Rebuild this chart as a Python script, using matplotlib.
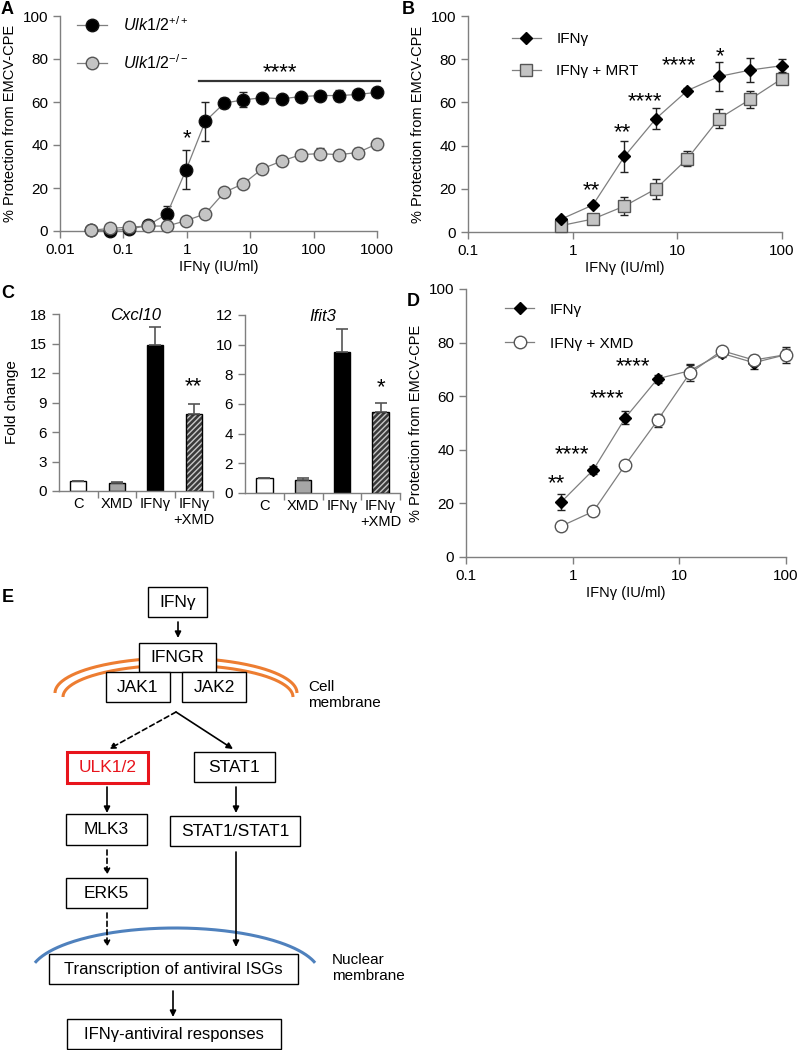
import numpy as np
import matplotlib
matplotlib.use("Agg")
import matplotlib.pyplot as plt
from matplotlib.patches import Rectangle

plt.rcParams['font.family'] = ['Liberation Sans', 'DejaVu Sans']
plt.rcParams['mathtext.fontset'] = 'custom'
plt.rcParams['mathtext.rm'] = 'Liberation Sans'
plt.rcParams['mathtext.it'] = 'Liberation Sans:italic'
plt.rcParams['hatch.linewidth'] = 1.0

# ---- panel A data ----
dose_a = [1000 / 2 ** k for k in range(15, -1, -1)]
wt_mean = [0.3, 0.2, 0.8, 2.6, 8.0, 28.5, 51.0, 59.5, 61.0, 62.0, 61.5, 62.5, 63.0, 63.0, 63.5, 64.5]
wt_err = [0.3, 0.3, 0.5, 0.8, 3.5, 9.0, 9.0, 2.5, 3.5, 1.0, 1.0, 1.2, 1.5, 2.5, 1.0, 1.0]
ko_mean = [0.3, 1.2, 1.8, 2.3, 2.3, 4.8, 8.0, 18.0, 22.0, 29.0, 32.5, 35.5, 36.0, 35.5, 36.5, 40.5]
ko_err = [0.2, 0.2, 0.2, 0.3, 0.3, 0.3, 0.3, 0.5, 0.5, 0.5, 0.5, 1.0, 2.5, 1.0, 2.0, 2.5]

# ---- panel B data ----
dose_b = [0.78, 1.56, 3.125, 6.25, 12.5, 25, 50, 100]
ifn_b = [6.0, 12.5, 35.0, 52.5, 65.5, 72.0, 75.0, 77.0]
ifn_b_err = [0.5, 1.0, 7.0, 5.0, 1.0, 6.5, 5.5, 3.0]
mrt_b = [3.0, 6.0, 12.0, 20.0, 34.0, 52.5, 61.5, 71.0]
mrt_b_err = [1.0, 1.0, 4.0, 4.5, 3.5, 4.5, 4.0, 2.0]

# ---- panel C data ----
groups_c = ['C', 'XMD', 'IFNγ', 'IFNγ\n+XMD']
cxcl10 = [1.0, 0.85, 14.8, 7.8]
cxcl10_err = [0.0, 0.1, 1.9, 1.0]
ifit3 = [1.0, 0.9, 9.5, 5.45]
ifit3_err = [0.0, 0.1, 1.55, 0.65]

# ---- panel D data ----
dose_d = [0.78, 1.56, 3.125, 6.25, 12.5, 25, 50, 100]
ifn_d = [20.5, 32.5, 52.0, 66.5, 69.5, 76.0, 72.5, 75.5]
ifn_d_err = [3.0, 1.5, 2.5, 1.5, 2.5, 1.5, 2.5, 3.0]
xmd_d = [11.5, 17.0, 34.5, 51.0, 68.5, 77.0, 73.5, 75.5]
xmd_d_err = [0.5, 0.5, 0.5, 2.5, 3.0, 1.0, 2.0, 2.0]

W, H = 797, 1050
fig = plt.figure(figsize=(W / 100, H / 100), dpi=100)


def px_axes(left, top, right, bottom):
    return fig.add_axes([left / W, 1 - bottom / H, (right - left) / W, (bottom - top) / H])


# diagram / label layer in pixel coordinates
dg = fig.add_axes([0, 0, 1, 1])
dg.set_xlim(0, W)
dg.set_ylim(H, 0)
dg.axis('off')

AX_GRAY = '#7f7f7f'


def style_axes(ax):
    for s in ['top', 'right']:
        ax.spines[s].set_visible(False)
    for s in ['left', 'bottom']:
        ax.spines[s].set_color(AX_GRAY)
        ax.spines[s].set_linewidth(1.0)
    ax.tick_params(colors=AX_GRAY, labelcolor='black', labelsize=11, length=5, width=1.0)
    ax.tick_params(which='minor', length=0)


def dose_panel(ax, xlim):
    style_axes(ax)
    ax.set_xscale('log')
    ax.set_xlim(*xlim)
    ax.set_ylim(0, 100)
    ax.set_yticks(range(0, 101, 20))
    dec = 10.0 ** np.arange(np.log10(xlim[0]), np.log10(xlim[1]) + 0.5)
    ax.set_xticks(dec)
    ax.set_xticklabels(['%g' % d for d in dec])
    ax.xaxis.set_minor_locator(matplotlib.ticker.NullLocator())
    ax.set_ylabel('% Protection from EMCV-CPE', fontsize=10.5, labelpad=4)
    ax.set_xlabel('IFNγ (IU/ml)', fontsize=10.5, labelpad=2)


def series(ax, x, y, err, marker, ms, fc, ec, label, z):
    ax.errorbar(x, y, yerr=err, fmt='none', ecolor='#222222', elinewidth=1.0,
                capsize=3, capthick=1.0, zorder=z, clip_on=False)
    ax.plot(x, y, '-', color=AX_GRAY, lw=0.9, marker=marker, ms=ms, mfc=fc,
            mec=ec, mew=1.0, label=label, zorder=z + 1, clip_on=False)


# ---- A ----
axA = px_axes(60, 16, 377, 231)
dose_panel(axA, (0.01, 1000))
series(axA, dose_a, wt_mean, wt_err, 'o', 9, 'black', '#111111', r'$\mathit{Ulk1/2}^{\mathit{+/+}}$', 3)
series(axA, dose_a, ko_mean, ko_err, 'o', 9, '#c4c4c4', '#555555', r'$\mathit{Ulk1/2}^{\mathit{-/-}}$', 5)
axA.legend(loc='upper left', bbox_to_anchor=(0.008, 1.07), frameon=False, fontsize=11.5,
           handlelength=1.9, labelspacing=1.2, handletextpad=1.0)
axA.text(1.0, 43, '*', ha='center', va='center', fontsize=16)
axA.plot([1.56, 1100], [70, 70], color='#333333', lw=1.6, clip_on=False)
axA.text(30, 73.5, '****', ha='center', va='center', fontsize=16)

# ---- B ----
axB = px_axes(468, 16, 782, 232)
dose_panel(axB, (0.1, 100))
series(axB, dose_b, ifn_b, ifn_b_err, 'D', 6.5, 'black', 'black', 'IFNγ', 5)
series(axB, dose_b, mrt_b, mrt_b_err, 's', 8.5, '#c4c4c4', '#555555', 'IFNγ + MRT', 3)
axB.legend(loc='upper left', bbox_to_anchor=(0.096, 0.99), frameon=False, fontsize=11,
           handlelength=1.9, labelspacing=1.2, handletextpad=1.0)
for xs, ys, t in [(1.5, 19, '**'), (3.0, 46, '**'), (4.9, 60.5, '****'), (10.4, 77, '****'), (25.5, 81, '*')]:
    axB.text(xs, ys, t, ha='center', va='center', fontsize=16)

# ---- C ----
def bar_panel(ax, vals, errs, ymax, step, title, star, star_y):
    style_axes(ax)
    xs = np.arange(len(vals))
    cols = ['white', '#a6a6a6', 'black', '#3a3a3a']
    for i in range(len(vals)):
        if i == 3:
            ax.bar(xs[i], vals[i], width=0.42, color=cols[i], edgecolor='#c8c8c8',
                   hatch='//////', lw=0, zorder=2)
            ax.bar(xs[i], vals[i], width=0.42, fill=False, edgecolor='black', lw=1.0, zorder=3)
        else:
            ax.bar(xs[i], vals[i], width=0.42, color=cols[i], edgecolor='black', lw=1.0, zorder=2)
    ax.errorbar(xs, vals, yerr=[np.zeros(len(vals)), errs], fmt='none', ecolor='#555555',
                elinewidth=1.2, capsize=4, capthick=1.2, zorder=4)
    ax.set_xlim(-0.5, 3.5)
    ax.set_ylim(0, ymax)
    ax.set_yticks(np.arange(0, ymax + 0.1, step))
    ax.set_xticks([0.5, 1.5, 2.5, 3.5])
    ax.set_xticklabels([])
    ax.set_xticks(xs, minor=True)
    ax.set_xticklabels(groups_c, minor=True, fontsize=10.5)
    ax.tick_params(axis='x', which='minor', length=0, pad=4)
    ax.text(0.5, 0.99, title, transform=ax.transAxes, ha='center', va='center',
            fontsize=12, style='italic')
    ax.text(3, star_y, star, ha='center', va='center', fontsize=16)


axC1 = px_axes(59, 314, 213, 491)
bar_panel(axC1, cxcl10, cxcl10_err, 18, 3, 'Cxcl10', '**', 10.6)
axC1.set_ylabel('Fold change', fontsize=11, labelpad=8)
axC2 = px_axes(245, 315, 400, 493)
bar_panel(axC2, ifit3, ifit3_err, 12, 2, 'Ifit3', '*', 7.1)

# ---- D ----
axD = px_axes(466, 289, 786, 557)
dose_panel(axD, (0.1, 100))
series(axD, dose_d, ifn_d, ifn_d_err, 'D', 6.5, 'black', 'black', 'IFNγ', 3)
series(axD, dose_d, xmd_d, xmd_d_err, 'o', 9, 'white', '#555555', 'IFNγ + XMD', 5)
axD.legend(loc='upper left', bbox_to_anchor=(0.08, 1.0), frameon=False, fontsize=11,
           handlelength=1.9, labelspacing=1.3, handletextpad=1.0)
for xs, ys, t in [(0.71, 27.5, '**'), (0.98, 38, '****'), (2.09, 59, '****'), (3.67, 71, '****')]:
    axD.text(xs, ys, t, ha='center', va='center', fontsize=16)

# ---- panel letters ----
for lx, ly, t in [(7, 10, 'A'), (408, 10, 'B'), (8, 293, 'C'), (413, 302, 'D'), (8, 598, 'E')]:
    dg.text(lx, ly, t, ha='center', va='center', fontsize=13, fontweight='bold')

# ---- E: pathway diagram ----
def arc(cx, cy, a, b, t0, t1, color, lw):
    t = np.radians(np.linspace(t0, t1, 200))
    dg.plot(cx + a * np.cos(t), cy - b * np.sin(t), color=color, lw=lw, solid_capstyle='butt', zorder=1)


arc(176, 693, 121, 35, 0, 180, '#ed7d31', 2.2)
arc(178, 697, 115, 32, 0, 180, '#ed7d31', 2.2)
arc(175, 975, 145, 47, 15, 165, '#4f81bd', 2.2)


def box(x0, y0, x1, y1, label, color='black', lw=1.0, fs=12.5):
    dg.add_patch(Rectangle((x0, y0), x1 - x0, y1 - y0, facecolor='white', edgecolor=color,
                           lw=lw, zorder=3))
    dg.text((x0 + x1) / 2, (y0 + y1) / 2 + 0.5, label, ha='center', va='center',
            fontsize=fs, color=color, zorder=4)


def arrow(x0, y0, x1, y1, dashed=False):
    dg.annotate('', xy=(x1, y1), xytext=(x0, y0),
                arrowprops=dict(arrowstyle='-|>', color='black', lw=1.2,
                                linestyle=(0, (3, 2)) if dashed else '-',
                                mutation_scale=9, shrinkA=0, shrinkB=0), zorder=2)


box(148, 587, 207, 617, 'IFNγ')
arrow(178, 622, 178, 638)
box(139, 643, 216, 672, 'IFNGR')
box(106, 672, 170, 702, 'JAK1')
box(182, 672, 246, 702, 'JAK2')
dg.text(308, 695, 'Cell\nmembrane', ha='left', va='center', fontsize=11, linespacing=1.15)
arrow(176, 712, 109, 749, dashed=True)
arrow(176, 712, 233, 749)
box(67, 752, 148, 783, 'ULK1/2', color='#e8141c', lw=2.2)
box(194, 752, 275, 782, 'STAT1')
arrow(107, 787, 107, 813)
arrow(236, 787, 236, 813)
box(66, 814, 147, 845, 'MLK3')
box(170, 816, 300, 846, 'STAT1/STAT1')
arrow(107, 850, 107, 875, dashed=True)
box(66, 878, 147, 908, 'ERK5')
arrow(107, 913, 107, 947, dashed=True)
arrow(236, 852, 236, 947)
box(49, 954, 298, 984, 'Transcription of antiviral ISGs', fs=12)
dg.text(332, 968, 'Nuclear\nmembrane', ha='left', va='center', fontsize=11, linespacing=1.15)
arrow(173, 991, 173, 1017)
box(67, 1019, 281, 1049, 'IFNγ-antiviral responses', fs=12)

fig.savefig('out.png', dpi=100)
